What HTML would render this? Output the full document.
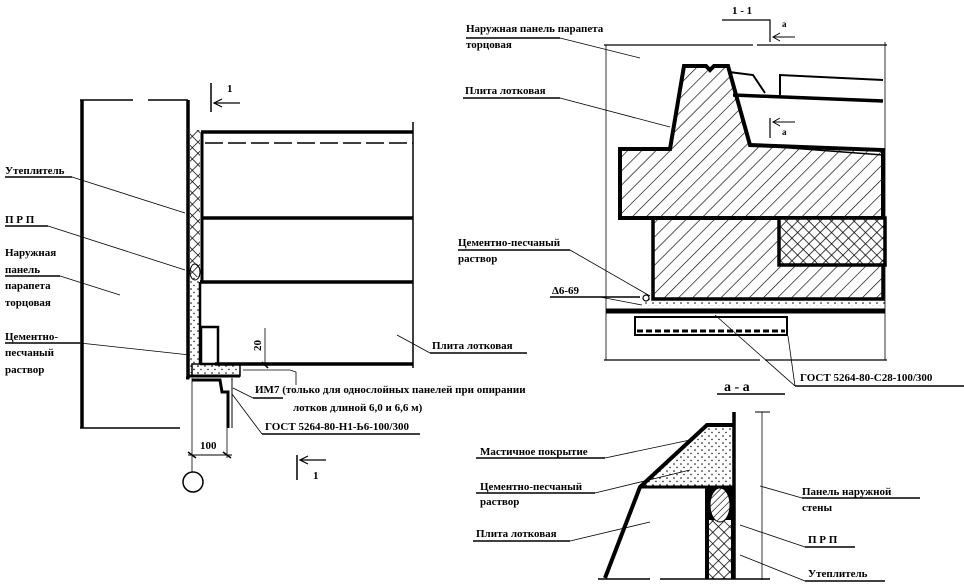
<!DOCTYPE html>
<html><head><meta charset="utf-8"><style>
html,body{margin:0;padding:0;background:#fff}
svg{display:block}
text{font-family:"Liberation Serif","Noto Serif CJK SC",serif;font-size:11px;font-weight:bold;fill:#000}
</style></head><body>
<svg width="964" height="587" viewBox="0 0 964 587" xmlns="http://www.w3.org/2000/svg">
<defs>
<pattern id="hat" width="10" height="10" patternUnits="userSpaceOnUse" patternTransform="rotate(45)">
<line x1="0" y1="0" x2="0" y2="10" stroke="#000" stroke-width="1.3"/></pattern>
<pattern id="hat2" width="5" height="5" patternUnits="userSpaceOnUse" patternTransform="rotate(45)">
<rect width="5" height="5" fill="#fff"/><line x1="0" y1="0" x2="0" y2="5" stroke="#000" stroke-width="1.3"/></pattern>
<pattern id="xh" width="8" height="8" patternUnits="userSpaceOnUse" patternTransform="rotate(45)">
<rect width="8" height="8" fill="#fff"/><line x1="0" y1="0" x2="0" y2="8" stroke="#000" stroke-width="1.5"/><line x1="0" y1="0" x2="8" y2="0" stroke="#000" stroke-width="1.5"/></pattern>
<pattern id="dots" width="7" height="7" patternUnits="userSpaceOnUse">
<circle cx="2" cy="2" r="0.8" fill="#000"/><circle cx="5" cy="5.5" r="0.7" fill="#000"/></pattern>
</defs>
<g stroke="#000" fill="none">
<line x1="82" y1="100" x2="82" y2="428" stroke-width="3.5"/>
<line x1="80" y1="100" x2="133" y2="100" stroke-width="1.5"/>
<line x1="148" y1="100" x2="188" y2="100" stroke-width="1.5"/>
<line x1="80" y1="428" x2="180" y2="428" stroke-width="1.5"/>
<line x1="188" y1="100" x2="188" y2="378" stroke-width="3.5"/>
<rect x="190" y="130" width="10" height="147" fill="url(#xh)" stroke="none"/>
<rect x="190" y="277" width="10" height="96" fill="url(#dots)" stroke="none"/>
<ellipse cx="195" cy="272" rx="5" ry="8" stroke-width="1"/>
<line x1="201" y1="132" x2="413" y2="132" stroke-width="3.5"/>
<line x1="205" y1="143" x2="413" y2="143" stroke-width="1.5" stroke-dasharray="18,5"/>
<line x1="202" y1="132" x2="202" y2="282" stroke-width="3"/>
<line x1="202" y1="218" x2="413" y2="218" stroke-width="3.5"/>
<line x1="200" y1="282" x2="413" y2="282" stroke-width="3.5"/>
<line x1="200" y1="282" x2="200" y2="364" stroke-width="2.5"/>
<rect x="201" y="327" width="17" height="37" stroke-width="2.5"/>
<line x1="215" y1="364" x2="413" y2="364" stroke-width="3.5"/>
<line x1="413" y1="122" x2="413" y2="368" stroke-width="1.5"/>
<rect x="192" y="364" width="48" height="12" fill="url(#dots)" stroke-width="1.5"/>
<polyline points="186,378 188,378 188,376 240,376" stroke-width="3"/>
<polyline points="192,380 220,380 222,392 228,392 228,428" stroke-width="3"/>
<line x1="232" y1="378" x2="232" y2="428" stroke-width="1"/>
<line x1="192" y1="378" x2="192" y2="472" stroke-width="0.8"/>
<line x1="227" y1="428" x2="227" y2="458" stroke-width="0.8"/>
<line x1="188" y1="455" x2="232" y2="455" stroke-width="1"/>
<line x1="188" y1="452" x2="196" y2="458" stroke-width="1.5"/><line x1="223" y1="452" x2="231" y2="458" stroke-width="1.5"/>
<circle cx="193" cy="482" r="10" stroke-width="1.5"/>
<line x1="265" y1="328" x2="265" y2="366" stroke-width="0.8"/>
<line x1="262" y1="362" x2="268" y2="368" stroke-width="1.5"/>
<polyline points="243,370 290,370 296,372 296,385" stroke-width="0.8"/>
<line x1="211" y1="83" x2="211" y2="112" stroke-width="1.5"/>
<line x1="214" y1="103" x2="240" y2="103" stroke-width="1.2"/>
<polyline points="222,99 214,103 222,107" stroke-width="1.2"/>
<line x1="297" y1="455" x2="297" y2="480" stroke-width="1.5"/>
<line x1="300" y1="460" x2="326" y2="460" stroke-width="1.2"/>
<polyline points="308,456 300,460 308,464" stroke-width="1.2"/>
<g stroke-width="0.8">
<line x1="5" y1="177" x2="72" y2="177" stroke-width="1.5"/><line x1="72" y1="177" x2="185" y2="213"/>
<line x1="5" y1="226" x2="48" y2="226" stroke-width="1.5"/><line x1="48" y1="226" x2="185" y2="270"/>
<line x1="5" y1="276" x2="60" y2="276" stroke-width="1.5"/><line x1="60" y1="276" x2="120" y2="295"/>
<line x1="5" y1="343" x2="80" y2="343" stroke-width="1.5"/><line x1="80" y1="343" x2="190" y2="355"/>
<line x1="430" y1="353" x2="527" y2="353" stroke-width="1.5"/><line x1="430" y1="353" x2="397" y2="335"/>
<line x1="253" y1="398" x2="283" y2="398" stroke-width="1.5"/><line x1="253" y1="398" x2="233" y2="388"/>
<line x1="262" y1="434" x2="420" y2="434" stroke-width="1.5"/><line x1="262" y1="434" x2="232" y2="394"/>
</g>
<line x1="606" y1="45" x2="606" y2="360" stroke-width="0.8"/>
<line x1="885" y1="42" x2="885" y2="360" stroke-width="0.8"/>
<line x1="604" y1="45" x2="753" y2="45" stroke-width="1.2"/><line x1="757" y1="45" x2="887" y2="45" stroke-width="1.2"/>
<line x1="604" y1="360" x2="760" y2="360" stroke-width="1.2"/><line x1="765" y1="360" x2="887" y2="360" stroke-width="1.2"/>
<polyline points="722,20 770,20 770,42" stroke-width="1.2"/>
<line x1="773" y1="37" x2="795" y2="37" stroke-width="1"/><polyline points="780,33 773,37 780,41" stroke-width="1"/>
<line x1="770" y1="118" x2="770" y2="138" stroke-width="1.2"/>
<line x1="773" y1="122" x2="795" y2="122" stroke-width="1"/><polyline points="780,118 773,122 780,126" stroke-width="1"/>
<polygon points="620,149 670,149 684,66 706,66 710,70 714,66 728,66 750,145 883,150 883,218 620,218" fill="url(#hat)" stroke-width="4"/>
<polygon points="653,218 883,218 883,299 653,299" fill="url(#hat)" stroke-width="3.5"/>
<rect x="779" y="218" width="106" height="47" fill="url(#xh)" stroke-width="3.5"/>
<line x1="750" y1="145" x2="883" y2="155" stroke-width="1.5"/>
<polyline points="729,72 753,75 765,93" stroke-width="2"/>
<line x1="733" y1="95" x2="883" y2="101" stroke-width="3.5"/>
<polyline points="780,95 780,75 883,80" stroke-width="2"/>
<rect x="645" y="299" width="240" height="7" fill="url(#dots)" stroke="none"/>
<line x1="606" y1="311" x2="885" y2="311" stroke-width="5"/>
<rect x="635" y="317" width="152" height="18" stroke-width="2"/>
<line x1="637" y1="331" x2="785" y2="331" stroke-width="3" stroke-dasharray="6,3"/>
<circle cx="646" cy="298" r="3" stroke-width="1.2"/>
<g stroke-width="0.8">
<line x1="466" y1="38" x2="560" y2="38" stroke-width="1.5"/><line x1="560" y1="38" x2="640" y2="58"/>
<line x1="463" y1="98" x2="560" y2="98" stroke-width="1.5"/><line x1="560" y1="98" x2="670" y2="127"/>
<line x1="458" y1="250" x2="570" y2="250" stroke-width="1.5"/><line x1="570" y1="250" x2="650" y2="296"/>
<line x1="550" y1="297" x2="640" y2="297" stroke-width="1.5"/><line x1="600" y1="297" x2="642" y2="305"/>
<line x1="795" y1="386" x2="965" y2="386" stroke-width="1.5"/><line x1="795" y1="386" x2="715" y2="315"/><line x1="795" y1="386" x2="788" y2="336"/>
</g>
<line x1="717" y1="394" x2="785" y2="394" stroke-width="1.5"/>
<polygon points="707,425 734,425 734,487 640,487" fill="url(#dots)" stroke="none"/>
<rect x="705" y="487" width="30" height="92" fill="#000" stroke="none"/>
<rect x="709" y="520" width="22" height="59" fill="url(#xh)" stroke="none"/>
<ellipse cx="720" cy="505" rx="10" ry="17" fill="url(#hat2)" stroke="#000" stroke-width="1"/>
<line x1="734" y1="412" x2="734" y2="579" stroke-width="3.5"/>
<polyline points="734,425 707,425 640,487 605,578" stroke-width="4"/>
<line x1="640" y1="487" x2="734" y2="487" stroke-width="3"/>
<line x1="598" y1="579" x2="650" y2="579" stroke-width="1.5"/><line x1="660" y1="579" x2="770" y2="579" stroke-width="1.5"/>
<line x1="762" y1="412" x2="762" y2="580" stroke-width="0.8"/>
<line x1="755" y1="412" x2="770" y2="412" stroke-width="1"/><line x1="755" y1="579" x2="770" y2="579" stroke-width="1"/>
<g stroke-width="0.8">
<line x1="476" y1="458" x2="605" y2="458" stroke-width="1.5"/><line x1="605" y1="458" x2="690" y2="440"/>
<line x1="476" y1="493" x2="595" y2="493" stroke-width="1.5"/><line x1="595" y1="493" x2="690" y2="470"/>
<line x1="473" y1="541" x2="570" y2="541" stroke-width="1.5"/><line x1="570" y1="541" x2="650" y2="522"/>
<line x1="802" y1="498" x2="920" y2="498" stroke-width="1.5"/><line x1="802" y1="498" x2="760" y2="486"/>
<line x1="805" y1="547" x2="855" y2="547" stroke-width="1.5"/><line x1="805" y1="547" x2="740" y2="525"/>
<line x1="805" y1="581" x2="885" y2="581" stroke-width="1.5"/><line x1="805" y1="581" x2="740" y2="555"/>
</g>
</g>
<text x="227" y="92">1</text>
<text x="313" y="479">1</text>
<text x="200" y="449">100</text>
<text x="261" y="351" transform="rotate(-90 261 351)">20</text>
<text x="5" y="174">Утеплитель</text>
<text x="5" y="223">П Р П</text>
<text x="5" y="256">Наружная</text>
<text x="5" y="273">панель</text>
<text x="5" y="289">парапета</text>
<text x="5" y="306">торцовая</text>
<text x="5" y="340">Цементно-</text>
<text x="5" y="356">песчаный</text>
<text x="5" y="373">раствор</text>
<text x="432" y="349">Плита лотковая</text>
<text x="255" y="393">ИМ7 (только для однослойных панелей при опирании</text>
<text x="293" y="411">лотков длиной 6,0 и 6,6 м)</text>
<text x="265" y="430">ГОСТ 5264-80-Н1-Ь6-100/300</text>
<text x="732" y="14">1 - 1</text>
<text x="782" y="27" style="font-size:9px">а</text>
<text x="782" y="135" style="font-size:9px">а</text>
<text x="466" y="32">Наружная панель парапета</text>
<text x="466" y="48">торцовая</text>
<text x="465" y="94">Плита лотковая</text>
<text x="458" y="246">Цементно-песчаный</text>
<text x="458" y="262">раствор</text>
<text x="552" y="294">Δ6-69</text>
<text x="800" y="381">ГОСТ 5264-80-С28-100/300</text>
<text x="724" y="391" style="font-size:14px">а - а</text>
<text x="480" y="455">Мастичное покрытие</text>
<text x="480" y="490">Цементно-песчаный</text>
<text x="480" y="505">раствор</text>
<text x="476" y="537">Плита лотковая</text>
<text x="802" y="495">Панель наружной</text>
<text x="802" y="511">стены</text>
<text x="808" y="543">П Р П</text>
<text x="808" y="577">Утеплитель</text>
</svg>
</body></html>
